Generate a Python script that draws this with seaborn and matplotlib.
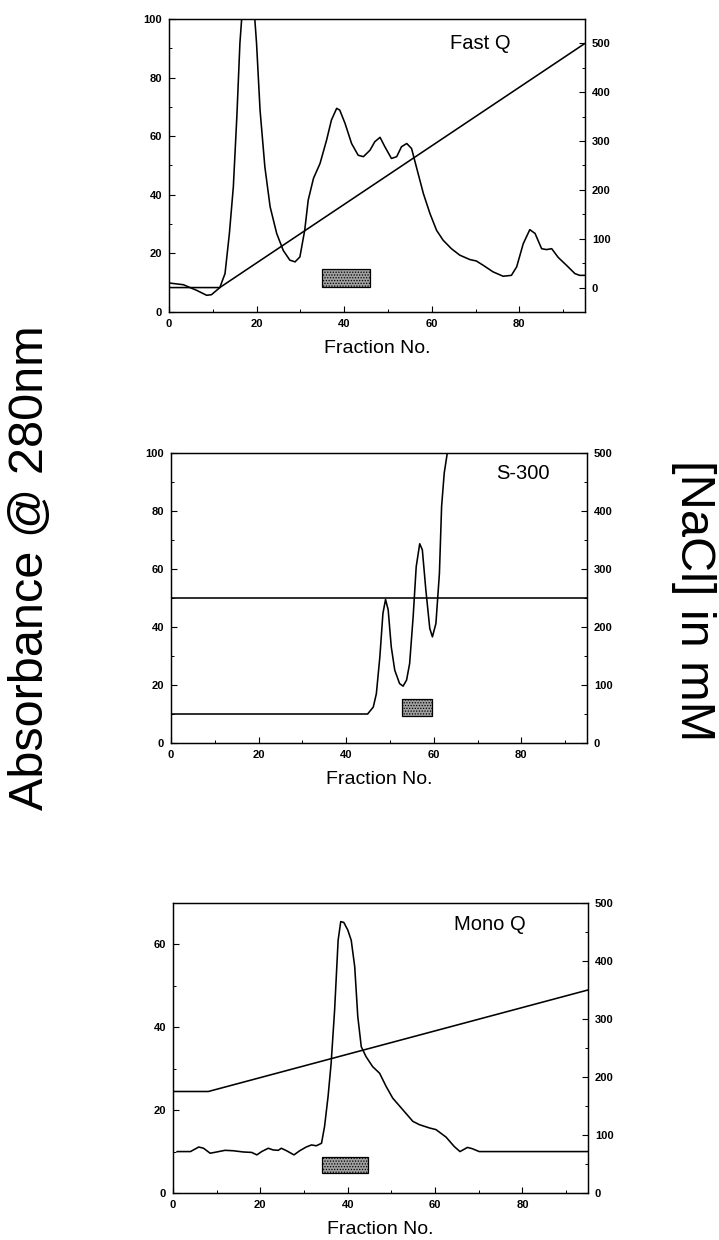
import matplotlib
matplotlib.use("Agg")
import matplotlib.pyplot as plt
from matplotlib.ticker import MultipleLocator
import pandas as pd
import seaborn as sns

# ---------------- data ----------------
# Panel 1: Fast Q
fastq_fraction = [0.0, 3.3, 6.3, 8.6, 9.7, 11.6, 12.8, 13.8, 14.7, 15.5, 16.2, 16.6, 17.2, 18.1,
                  19.0, 19.6, 20.0, 20.8, 21.9, 23.1, 24.6, 26.1, 27.6, 28.8, 29.9, 31.0, 31.8,
                  33.0, 34.5, 36.0, 37.1, 38.3, 39.0, 40.2, 41.7, 43.2, 44.4, 45.9, 47.0, 48.2,
                  49.3, 50.8, 52.0, 53.1, 54.3, 55.4, 56.5, 58.1, 59.6, 61.1, 62.6, 64.5, 66.4,
                  68.7, 70.2, 71.8, 74.0, 76.3, 78.2, 79.4, 80.9, 82.4, 83.6, 85.1, 86.2, 87.4,
                  88.9, 90.8, 92.7, 93.8, 95.0]
fastq_a280 = [9.9, 9.3, 7.4, 5.7, 5.9, 8.3, 13.1, 26.8, 42.7, 66.6, 91.7, 100.0, 105.0, 107.0,
              105.0, 100.0, 91.7, 68.9, 49.5, 35.9, 26.8, 21.0, 17.7, 17.1, 18.8, 27.9, 38.2,
              45.6, 50.7, 58.7, 65.5, 69.5, 68.9, 64.4, 57.5, 53.5, 53.0, 55.2, 58.1, 59.6,
              56.4, 52.4, 53.0, 56.4, 57.5, 55.8, 49.5, 40.4, 33.6, 27.9, 24.5, 21.6, 19.4,
              17.9, 17.4, 15.9, 13.7, 12.2, 12.5, 15.4, 23.3, 28.1, 26.8, 21.6, 21.3, 21.6,
              18.6, 15.9, 13.1, 12.5, 12.5]
fastq_nacl_fraction = [0.0, 11.6, 95.0]
fastq_nacl_mM = [0.0, 0.0, 500.0]

# Panel 2: S-300
s300_fraction = [0.0, 20.0, 40.0, 44.9, 46.2, 46.9, 47.7, 48.4, 49.0, 49.6, 50.3, 51.1, 52.2,
                 53.0, 53.8, 54.5, 55.3, 56.0, 56.8, 57.4, 58.2, 59.1, 59.7, 60.5, 61.3, 61.8,
                 62.4, 63.1, 63.8, 65.0, 95.0]
s300_a280 = [10.0, 10.0, 10.0, 10.0, 12.4, 17.0, 29.7, 44.7, 49.5, 45.9, 33.2, 25.1, 20.5,
             19.6, 21.7, 27.4, 43.5, 60.8, 68.7, 66.6, 52.8, 39.5, 36.6, 41.2, 58.5, 81.6,
             93.1, 100.0, 106.0, 112.0, 120.0]
s300_nacl_fraction = [0.0, 95.0]
s300_nacl_mM = [250.0, 250.0]

# Panel 3: Mono Q
monoq_fraction = [0.9, 4.0, 5.9, 7.0, 8.5, 10.0, 11.9, 13.8, 16.1, 18.0, 19.2, 20.3, 21.8, 22.9,
                  24.1, 24.8, 26.0, 27.7, 29.0, 30.5, 31.7, 32.8, 34.0, 34.7, 35.5, 36.2, 37.0,
                  37.8, 38.4, 39.1, 40.0, 40.8, 41.6, 42.3, 43.1, 44.2, 45.7, 47.3, 48.8, 50.3,
                  52.6, 54.9, 56.4, 58.7, 60.2, 62.5, 64.4, 65.7, 67.4, 68.5, 70.1, 95.0]
monoq_a280 = [10.0, 10.0, 11.1, 10.8, 9.6, 9.9, 10.3, 10.2, 9.9, 9.8, 9.2, 10.0, 10.8, 10.4,
              10.3, 10.8, 10.2, 9.2, 10.2, 11.1, 11.6, 11.4, 12.0, 16.1, 23.3, 31.3, 44.2,
              61.0, 65.5, 65.3, 63.5, 61.0, 54.6, 42.6, 35.3, 32.9, 30.5, 28.9, 25.7, 22.9,
              20.1, 17.3, 16.5, 15.7, 15.3, 13.5, 11.2, 10.0, 11.0, 10.7, 10.0, 10.0]
monoq_nacl_fraction = [0.0, 8.1, 95.0]
monoq_nacl_mM = [175.0, 175.0, 350.0]

panel_titles = ["Fast Q", "S-300", "Mono Q"]
pool_start = [35.0, 52.7, 34.0]
pool_end = [46.0, 59.7, 44.7]
pool_low = [8.5, 9.3, 4.75]
pool_high = [14.8, 15.1, 8.8]

x_label = "Fraction No."
left_label = "Absorbance @ 280nm"
right_label = "[NaCl] in mM"

# ---------------- styling ----------------
sns.set_theme(style="ticks")
plt.rcParams["font.family"] = ["Liberation Sans", "DejaVu Sans"]
plt.rcParams["xtick.direction"] = "in"
plt.rcParams["ytick.direction"] = "in"
plt.rcParams["hatch.linewidth"] = 0.6
plt.rcParams["axes.edgecolor"] = "black"
plt.rcParams["text.color"] = "black"
plt.rcParams["axes.labelcolor"] = "black"
plt.rcParams["xtick.color"] = "black"
plt.rcParams["ytick.color"] = "black"

fig = plt.figure(figsize=(7.19, 12.4), dpi=100)
fig.patch.set_facecolor("white")

positions = [
    [0.2350, 0.7484, 0.5786, 0.2363],
    [0.2378, 0.4008, 0.5786, 0.2339],
    [0.2406, 0.0379, 0.5772, 0.2339],
]
left_lims = [(0, 100), (0, 100), (0, 70)]
right_lims = [(-50, 550), (0, 500), (0, 500)]
title_pos = [(64.2, 89.8), (74.2, 91.0), (64.3, 63.5)]

traces = [
    (fastq_fraction, fastq_a280, fastq_nacl_fraction, fastq_nacl_mM),
    (s300_fraction, s300_a280, s300_nacl_fraction, s300_nacl_mM),
    (monoq_fraction, monoq_a280, monoq_nacl_fraction, monoq_nacl_mM),
]

for i, (fx, fa, nx, nm) in enumerate(traces):
    ax = fig.add_axes(positions[i])
    ax2 = ax.twinx()
    df_a = pd.DataFrame({"fraction": fx, "a280": fa})
    df_n = pd.DataFrame({"fraction": nx, "nacl": nm})

    sns.lineplot(data=df_a, x="fraction", y="a280", ax=ax, color="black",
                 linewidth=1.15, estimator=None, sort=False)
    sns.lineplot(data=df_n, x="fraction", y="nacl", ax=ax2, color="black",
                 linewidth=1.15, estimator=None, sort=False)

    # pooled fractions box
    ax.bar(x=pool_start[i], height=pool_high[i] - pool_low[i],
           width=pool_end[i] - pool_start[i], bottom=pool_low[i], align="edge",
           facecolor="#a0a0a0", edgecolor="black", hatch="......", linewidth=0.9,
           zorder=3)

    ax.set_xlim(0, 95)
    ax.set_ylim(*left_lims[i])
    ax2.set_ylim(*right_lims[i])

    ax.xaxis.set_major_locator(MultipleLocator(20))
    ax.xaxis.set_minor_locator(MultipleLocator(10))
    ax.yaxis.set_major_locator(MultipleLocator(20))
    ax.yaxis.set_minor_locator(MultipleLocator(10))
    ax2.yaxis.set_major_locator(MultipleLocator(100))
    ax2.yaxis.set_minor_locator(MultipleLocator(50))

    ax.tick_params(axis="both", which="major", length=4, width=0.8, pad=5,
                   colors="black", labelsize=8)
    ax.tick_params(axis="both", which="minor", length=2.5, width=0.7)
    ax2.tick_params(axis="y", which="major", length=4, width=0.8, pad=5,
                    colors="black", labelsize=8)
    ax2.tick_params(axis="y", which="minor", length=2.5, width=0.7)
    for lbl in ax.get_xticklabels() + ax.get_yticklabels() + ax2.get_yticklabels():
        lbl.set_fontweight("bold")

    ax.set_xlabel(x_label, fontsize=14, labelpad=8, color="black")
    ax.set_ylabel("")
    ax2.set_ylabel("")

    for sp in list(ax.spines.values()) + list(ax2.spines.values()):
        sp.set_linewidth(0.9)
        sp.set_color("black")

    ax.text(title_pos[i][0], title_pos[i][1], panel_titles[i], fontsize=14.5,
            ha="left", va="baseline", color="black")
    ax.set_zorder(ax2.get_zorder() + 1)
    ax.patch.set_visible(False)

fig.text(0.042, 0.542, left_label, rotation=90, fontsize=35,
         ha="center", va="center", color="black")
fig.text(0.964, 0.516, right_label, rotation=270, fontsize=35,
         ha="center", va="center", color="black")

fig.savefig("out.png", dpi=100, facecolor="white")
